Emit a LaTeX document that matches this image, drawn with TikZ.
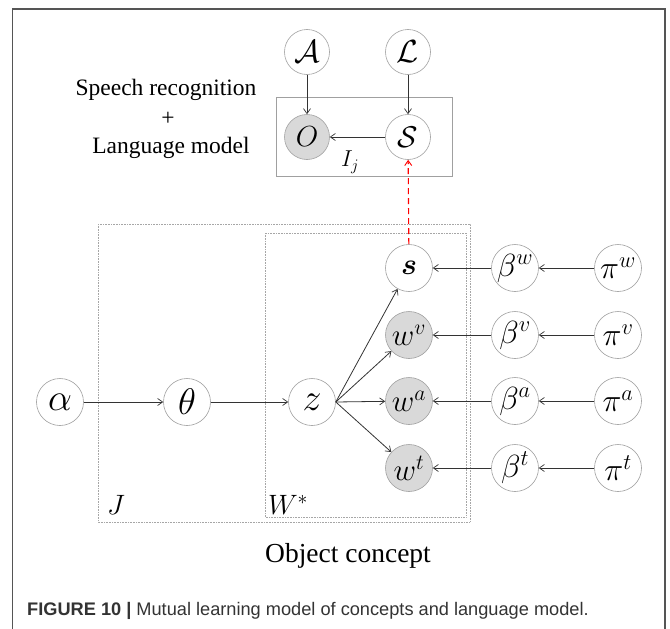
\RequirePackage{fix-cm}
\documentclass[tikz,border=0pt]{standalone}
\usepackage{amsmath}
\usepackage{fontspec}
\newfontfamily\serifrm{Liberation Serif}
\newfontfamily\capsans{Liberation Sans}
\usetikzlibrary{arrows.meta}
\definecolor{framegray}{HTML}{555555}
\definecolor{ringgray}{HTML}{A0A0A0}
\definecolor{obsfill}{HTML}{D9D9D9}
\definecolor{linkgray}{HTML}{333333}
\definecolor{captext}{HTML}{333333}
\newcommand{\msz}[2]{\fontsize{#1}{#1}\selectfont$#2$}
\tikzset{
  var/.style={circle, draw=ringgray, line width=0.6pt, fill=white,
    minimum size=47pt, inner sep=0pt},
  obs/.style={var, fill=obsfill},
  link/.style={draw=linkgray, line width=0.8pt,
    -{Straight Barb[length=5pt,width=7pt,line width=0.7pt]}},
  plate/.style={draw=gray!70, line width=0.6pt, densely dotted},
  title/.style={font=\serifrm\fontsize{23.5}{23.5}\selectfont, anchor=base, inner sep=0pt},
}
\begin{document}
\begin{tikzpicture}[x=1pt, y=-1pt]
\useasboundingbox (0,0) rectangle (670,629);
% outer frame (open at the bottom)
\draw[framegray, line width=1.1pt] (12.5,640) -- (12.5,9) -- (665,9) -- (665,640);

% speech recognition part
\node[title] (sr1) at (166,95) {Speech recognition};
\node[title] (sr2) at (168,125) {+};
\node[title] (sr3) at (171,153) {Language model};
\draw[ringgray, line width=0.7pt] (276,97) rectangle (452,176);
\node[var, minimum size=45pt] (A) at (307,52) {\msz{32}{\mathcal{A}}};
\node[var, minimum size=45pt] (L) at (408,52) {\msz{32}{\mathcal{L}}};
\node[obs, minimum size=45pt] (O) at (307,137) {\msz{29}{O}};
\node[var, minimum size=45pt] (S) at (408,137) {\msz{30}{\mathcal{S}}};
\node (Ij) at (350,162) {\msz{23}{I_j}};
\draw[link] (A) -- (O);
\draw[link] (L) -- (S);
\draw[link] (S) -- (O);

% object concept plates
\draw[plate] (98,224) rectangle (470,522);
\draw[plate] (265,233) rectangle (466,517);
\node (Jlab) at (116,505) {\msz{28}{J}};
\node (Wlab) at (288,505) {\msz{28}{W^{*}}};
\node[font=\serifrm\fontsize{27.5}{27.5}\selectfont, anchor=base] (oc) at (348,562) {Object concept};

% nodes of the concept model
\node[var] (alpha) at (60,402) {\msz{38}{\alpha}};
\node[var] (theta) at (187,402) {\msz{37}{\theta}};
\node[var] (z) at (312,402) {\msz{38}{z}};
\node[var] (s) at (409,268) {\msz{30}{\boldsymbol{s}}};
\node[obs] (wv) at (409,335) {\msz{31}{w^{v}}};
\node[obs] (wa) at (409,401) {\msz{31}{w^{a}}};
\node[obs] (wt) at (409,468) {\msz{31}{w^{t}}};
\node[var] (bw) at (515,268) {\msz{32}{\beta^{w}}};
\node[var] (bv) at (515,335) {\msz{32}{\beta^{v}}};
\node[var] (ba) at (515,401) {\msz{32}{\beta^{a}}};
\node[var] (bt) at (515,468) {\msz{32}{\beta^{t}}};
\node[var] (pw) at (618,268) {\msz{32}{\pi^{w}}};
\node[var] (pv) at (618,335) {\msz{32}{\pi^{v}}};
\node[var] (pa) at (618,401) {\msz{32}{\pi^{a}}};
\node[var] (pt) at (618,468) {\msz{32}{\pi^{t}}};

\draw[link] (alpha) -- (theta);
\draw[link] (theta) -- (z);
\foreach \t in {s,wv,wa,wt} \draw[link] (z.east) -- (\t);
\draw[link] (bw) -- (s);
\draw[link] (bv) -- (wv);
\draw[link] (ba) -- (wa);
\draw[link] (bt) -- (wt);
\foreach \r in {w,v,a,t} \draw[link] (p\r) -- (b\r);

% link between the two models
\draw[red, line width=1.1pt, dash pattern=on 6pt off 4pt,
  -{Straight Barb[length=5pt,width=7pt,line width=0.9pt]}] (s) -- (S);

% caption
\node[font=\capsans\fontsize{18.2}{18.2}\selectfont, text=captext, anchor=base west, inner sep=0pt] (cap) at (27,615)
  {\textbf{FIGURE 10 |} Mutual learning model of concepts and language model.};
\end{tikzpicture}
\end{document}
